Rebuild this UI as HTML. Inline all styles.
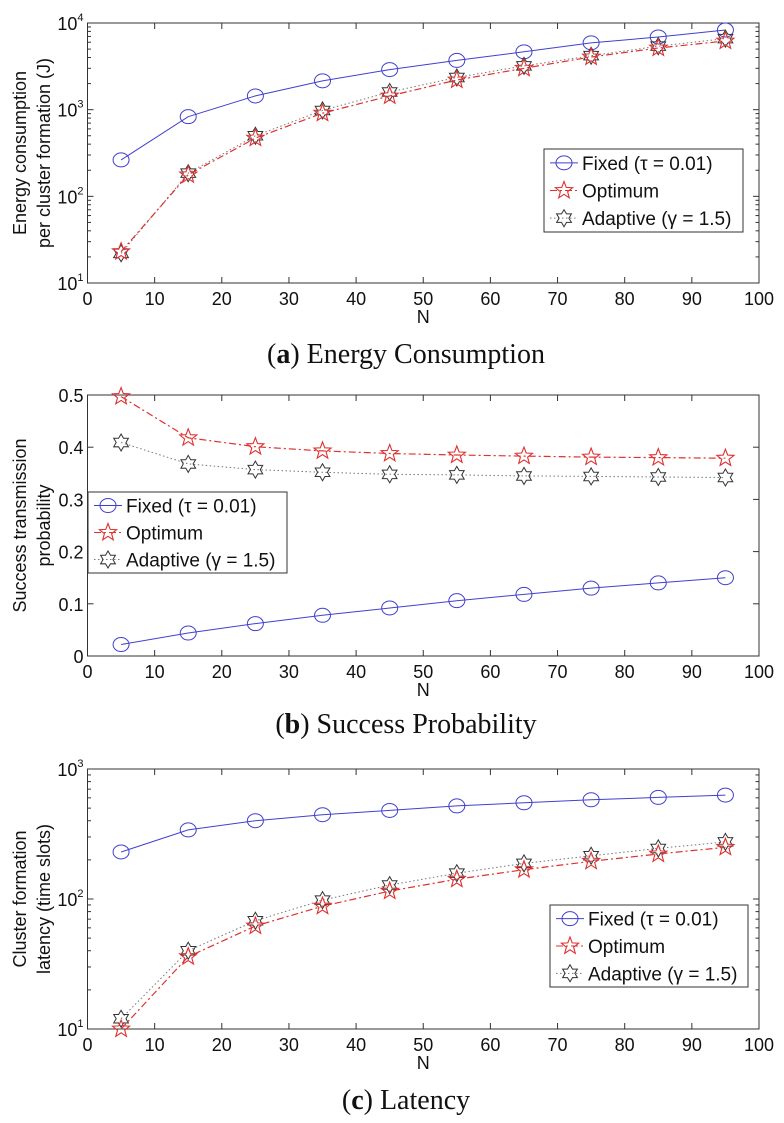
<!DOCTYPE html>
<html><head><meta charset="utf-8"><style>
body{margin:0;background:#fff;width:784px;height:1123px;overflow:hidden}
svg{display:block}
text{font-family:"Liberation Sans",sans-serif}
.cap{font-family:"Liberation Serif",serif;font-size:28px}
</style></head><body>
<svg id="fig" width="784" height="1123" viewBox="0 0 784 1123"></svg>
<script>
const nVals=[5,15,25,35,45,55,65,75,85,95];
const xTicks=[0,10,20,30,40,50,60,70,80,90,100];
const aFixed=[263,830,1440,2150,2900,3700,4650,5900,6900,8300];
const aOpt=[23,177,470,910,1440,2200,3000,4050,5150,6200];
const aAdp=[22,185,500,980,1600,2350,3200,4200,5400,6600];
const bFixed=[0.022,0.044,0.062,0.078,0.092,0.106,0.118,0.130,0.140,0.150];
const bOpt=[0.497,0.418,0.401,0.393,0.388,0.385,0.383,0.381,0.380,0.379];
const bAdp=[0.409,0.368,0.357,0.352,0.348,0.347,0.345,0.344,0.343,0.342];
const bTicks=[0,0.1,0.2,0.3,0.4,0.5];
const cFixed=[230,340,400,445,480,520,550,580,605,630];
const cOpt=[10,36,62,88,115,142,168,195,222,250];
const cAdp=[12,40,68,98,128,158,188,215,245,275];
const NS="http://www.w3.org/2000/svg";
const svg=document.getElementById('fig');
function mk(tag,at,par,txt){const e=document.createElementNS(NS,tag);for(const k in at)e.setAttribute(k,at[k]);if(txt!==undefined)e.textContent=txt;(par||svg).appendChild(e);return e;}
function starPts(cx,cy,n,ro,ri){let p=[];for(let i=0;i<2*n;i++){const r=i%2?ri:ro;const a=-Math.PI/2+i*Math.PI/n;p.push((cx+r*Math.cos(a)).toFixed(1)+','+(cy+r*Math.sin(a)).toFixed(1));}return p.join(' ');}
function marker(g,kind,x,y){
 if(kind==='circle')return mk('ellipse',{cx:x,cy:y,rx:8,ry:7,fill:'none',stroke:'#4040d0','stroke-width':1},g);
 if(kind==='penta')return mk('polygon',{points:starPts(x,y,5,9,3.8),fill:'none',stroke:'#e03030','stroke-width':1.1},g);
 return mk('polygon',{points:starPts(x,y,6,8.5,4.9),fill:'none',stroke:'#333','stroke-width':1},g);
}
const series=[{k:'circle',c:'#4040d0',d:'',lab:'Fixed (τ = 0.01)',n:'fixed'},{k:'penta',c:'#e03030',d:'7,3,2,3',lab:'Optimum',n:'optimum'},{k:'hexa',c:'#777',d:'1.5,2.5',lab:'Adaptive (γ = 1.5)',n:'adaptive'}];
function panel(o){
 const g=mk('g',{});
 const L=87.5,R=759,T=o.top,B=o.bot;
 const X=v=>L+(v/100)*(R-L);
 const Y=o.log?v=>B-(Math.log10(v)-o.lo)/(o.hi-o.lo)*(B-T):v=>B-(v-o.lo)/(o.hi-o.lo)*(B-T);
 mk('rect',{x:L,y:T,width:R-L,height:B-T,fill:'#fff',stroke:'#333','stroke-width':1},g);
 xTicks.forEach(t=>{const x=X(t);mk('line',{x1:x,x2:x,y1:B,y2:B-6,stroke:'#333'},g);mk('line',{x1:x,x2:x,y1:T,y2:T+6,stroke:'#333'},g);
  const tl=mk('text',{x:x,y:B+22,'font-size':18,'text-anchor':'middle',fill:'#111'},g,String(t));});
 if(o.log){for(let d=o.lo;d<o.hi;d++){for(let m=1;m<10;m++){const y=Y(m*Math.pow(10,d));const len=m===1?6:3.5;mk('line',{x1:L,x2:L+len,y1:y,y2:y,stroke:'#333'},g);mk('line',{x1:R,x2:R-len,y1:y,y2:y,stroke:'#333'},g);}}
  for(let d=o.lo;d<=o.hi;d++){const y=Y(Math.pow(10,d));const t=mk('text',{x:L-4,y:y+7,'font-size':18,'text-anchor':'end',fill:'#111'},g);mk('tspan',{},t,'10');mk('tspan',{dy:-9,'font-size':11},t,String(d));}}
 else{o.ticks.forEach(v=>{const y=Y(v);mk('line',{x1:L,x2:L+6,y1:y,y2:y,stroke:'#333'},g);mk('line',{x1:R,x2:R-6,y1:y,y2:y,stroke:'#333'},g);const t=mk('text',{x:L-4,y:y+7,'font-size':18,'text-anchor':'end',fill:'#111'},g,String(v));});}
 const xt=mk('text',{x:(L+R)/2,y:B+40,'font-size':18,'text-anchor':'middle',fill:'#111'},g,'N');
 const yt=mk('text',{transform:`translate(26,${(T+B)/2}) rotate(-90)`,'font-size':18,'text-anchor':'middle',fill:'#111'},g);
 mk('tspan',{x:0,dy:0},yt,o.yl[0]);mk('tspan',{x:0,dy:24},yt,o.yl[1]);
 [0,2,1].forEach(i=>{const s=series[i];const vals=o.data[i];const sg=mk('g',{},g);
  const pts=nVals.map((n,j)=>X(n).toFixed(1)+','+Y(vals[j]).toFixed(1)).join(' ');
  const pl=mk('polyline',{points:pts,fill:'none',stroke:s.c,'stroke-width':i===1?1.2:1,'stroke-dasharray':s.d},sg);
  nVals.forEach((n,j)=>{const m=marker(sg,s.k,X(n),Y(vals[j]));});});
 const lg=mk('g',{},g);
 const [lx,ly,lw,lh]=o.leg;mk('rect',{x:lx,y:ly,width:lw,height:lh,fill:'#fff',stroke:'#333'},lg);
 series.forEach((s,i)=>{const y=ly+lh*(i+0.5)/3;const e=mk('g',{},lg);
  mk('line',{x1:lx+6,x2:lx+34,y1:y,y2:y,stroke:s.c,'stroke-dasharray':s.d},e);marker(e,s.k,lx+20,y);
  mk('text',{x:lx+38,y:y+7,'font-size':19,fill:'#111'},e,s.lab);});
 const cp=mk('text',{x:406,y:o.cap,'text-anchor':'middle',class:'cap',fill:'#111'},g);
 mk('tspan',{},cp,'(');mk('tspan',{'font-weight':'bold'},cp,o.cl);mk('tspan',{},cp,') '+o.ct);
}
panel({name:'energy-chart',top:23,bot:283,log:true,lo:1,hi:4,data:[aFixed,aOpt,aAdp],yl:['Energy consumption','per cluster formation (J)'],leg:[544,149,199,83],cap:363,cl:'a',ct:'Energy Consumption'});
panel({name:'success-chart',top:395,bot:656,log:false,lo:0,hi:0.5,ticks:bTicks,data:[bFixed,bOpt,bAdp],yl:['Success transmission','probability'],leg:[88,492,199,81],cap:733,cl:'b',ct:'Success Probability'});
panel({name:'latency-chart',top:769,bot:1029,log:true,lo:1,hi:3,data:[cFixed,cOpt,cAdp],yl:['Cluster formation','latency  (time slots)'],leg:[550,905,198,82],cap:1109,cl:'c',ct:'Latency'});
</script>
</body></html>
